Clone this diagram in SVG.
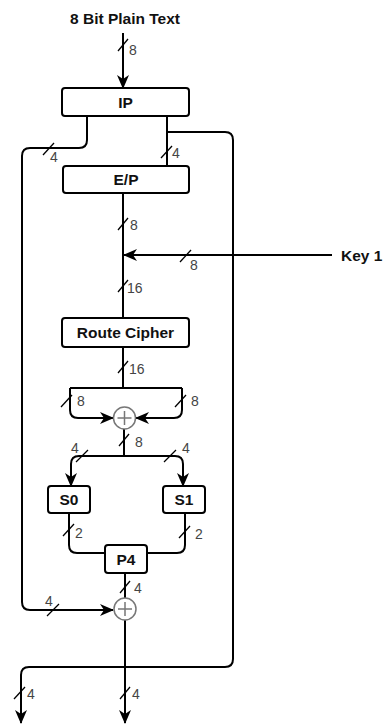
<svg xmlns="http://www.w3.org/2000/svg" width="387" height="727" viewBox="0 0 387 727">
<style>
.w{fill:none;stroke:#000;stroke-width:2;stroke-linejoin:round}
.a{marker-end:url(#arr)}
.t{stroke:#000;stroke-width:1.3}
.box{fill:#fff;stroke:#000;stroke-width:2}
.bl{font-family:"Liberation Sans",Arial,sans-serif;font-weight:bold;font-size:15.5px;fill:#111;text-anchor:middle}
.lb{font-family:"Liberation Sans",Arial,sans-serif;font-size:14px;fill:#444}
.x{fill:#fff;stroke:#777;stroke-width:1.5}
.p{stroke:#777;stroke-width:1.5}
</style>
<defs>
<marker id="arr" viewBox="0 0 14 12" refX="13" refY="6" markerWidth="14" markerHeight="12" markerUnits="userSpaceOnUse" orient="auto">
<path d="M0,0 L14,6 L0,12 L4,6 z" fill="#000"/>
</marker>
</defs>
<text class="bl" x="125" y="24">8 Bit Plain Text</text>
<text class="bl" x="341" y="261" style="text-anchor:start">Key 1</text>
<g id="connectors">
<path class="w a" d="M123,33 L123,88"/>
<path class="w a" d="M87,116 L87,140 Q87,148 79,148 L30,148 Q22,148 22,156 L22,602 Q22,610 30,610 L113,610"/>
<path class="w" d="M167,116 L167,166"/>
<path class="w a" d="M167,132 L225,132 Q233,132 233,140 L233,659 Q233,667 225,667 L29,667 Q21,667 21,675 L21,723"/>
<path class="w" d="M123,193 L123,318"/>
<path class="w a" d="M332,255 L124,255"/>
<path class="w" d="M123,347 L123,388 M70,388 L182,388"/>
<path class="w a" d="M70,388 L70,410 Q70,418 78,418 L113,418"/>
<path class="w a" d="M182,388 L182,410 Q182,418 174,418 L136,418"/>
<path class="w" d="M124,429 L124,456"/>
<path class="w a" d="M124,456 L79,456 Q71,456 71,464 L71,486"/>
<path class="w a" d="M124,456 L175,456 Q183,456 183,464 L183,486"/>
<path class="w" d="M69,513 L69,545 Q69,553 77,553 L105,553"/>
<path class="w" d="M185,513 L185,545 Q185,553 177,553 L147,553"/>
<path class="w" d="M125,573 L125,598"/>
<path class="w a" d="M125,620 L125,723"/>
<g id="ticks">
<line class="t" x1="118" y1="51" x2="128" y2="39"/>
<line class="t" x1="43" y1="155" x2="54" y2="143"/>
<line class="t" x1="161" y1="158" x2="172" y2="146"/>
<line class="t" x1="118" y1="230" x2="128" y2="218"/>
<line class="t" x1="180" y1="262" x2="191" y2="250"/>
<line class="t" x1="118" y1="292" x2="128" y2="280"/>
<line class="t" x1="118" y1="373" x2="128" y2="361"/>
<line class="t" x1="61" y1="407" x2="72" y2="395"/>
<line class="t" x1="175" y1="407" x2="186" y2="395"/>
<line class="t" x1="119" y1="446" x2="129" y2="434"/>
<line class="t" x1="76" y1="462" x2="88" y2="450"/>
<line class="t" x1="164" y1="462" x2="176" y2="450"/>
<line class="t" x1="63" y1="536" x2="74" y2="524"/>
<line class="t" x1="179" y1="538" x2="190" y2="526"/>
<line class="t" x1="120" y1="593" x2="130" y2="581"/>
<line class="t" x1="47" y1="616" x2="59" y2="604"/>
<line class="t" x1="14" y1="699" x2="25" y2="687"/>
<line class="t" x1="120" y1="699" x2="130" y2="687"/>
</g>
<g id="labels">
<text class="lb" x="129" y="55">8</text>
<text class="lb" x="50" y="162">4</text>
<text class="lb" x="172" y="158">4</text>
<text class="lb" x="130" y="230">8</text>
<text class="lb" x="190" y="270">8</text>
<text class="lb" x="127" y="293">16</text>
<text class="lb" x="129" y="374">16</text>
<text class="lb" x="77" y="406">8</text>
<text class="lb" x="191" y="406">8</text>
<text class="lb" x="135" y="447">8</text>
<text class="lb" x="71" y="453">4</text>
<text class="lb" x="182" y="453">4</text>
<text class="lb" x="75" y="538">2</text>
<text class="lb" x="195" y="539">2</text>
<text class="lb" x="134" y="593">4</text>
<text class="lb" x="45" y="606">4</text>
<text class="lb" x="27" y="699">4</text>
<text class="lb" x="132" y="699">4</text>
</g>
</g>
<g id="IP"><rect class="box" x="62" y="88" width="127" height="28" rx="3"/><text class="bl" x="125.5" y="107.5">IP</text></g>
<g id="EP"><rect class="box" x="63" y="166" width="126" height="27" rx="3"/><text class="bl" x="126" y="185">E/P</text></g>
<g id="RouteCipher"><rect class="box" x="62" y="318" width="127" height="29" rx="3"/><text class="bl" x="125.5" y="338">Route Cipher</text></g>
<g id="XOR1"><circle class="x" cx="124.5" cy="418" r="11"/><path class="p" d="M117.5,418 H131.5 M124.5,411 V425"/></g>
<g id="S0"><rect class="box" x="48" y="486" width="42" height="27" rx="3"/><text class="bl" x="69" y="505">S0</text></g>
<g id="S1"><rect class="box" x="163" y="486" width="42" height="27" rx="3"/><text class="bl" x="184" y="505">S1</text></g>
<g id="P4"><rect class="box" x="105" y="545" width="42" height="28" rx="3"/><text class="bl" x="126" y="564.5">P4</text></g>
<g id="XOR2"><circle class="x" cx="125" cy="609" r="11"/><path class="p" d="M118,609 H132 M125,602 V616"/></g>
</svg>
